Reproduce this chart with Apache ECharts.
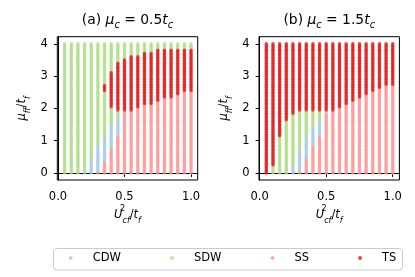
<!DOCTYPE html>
<html><head><meta charset="utf-8">
<script src="https://cdn.jsdelivr.net/npm/echarts@6/dist/echarts.min.js"></script>
<style>html,body{margin:0;padding:0;background:#fff}#c{width:415px;height:277px}</style>
</head><body><div id="c"></div>
<script>
// ---- data ----
const phaseNames = ['CDW', 'SDW', 'SS', 'TS'];
const phaseColors = ['#a6cee3', '#b2df8a', '#fb9a99', '#e31a1c'];
const uValues = [0.05,0.10,0.15,0.20,0.25,0.30,0.35,0.40,0.45,0.50,0.55,0.60,0.65,0.70,0.75,0.80,0.85,0.90,0.95,1.00];
const muGrid = [0,0.05,0.1,0.15,0.2,0.25,0.3,0.35,0.4,0.45,0.5,0.55,0.6,0.65,0.7,0.75,0.8,0.85,0.9,0.95,
  1,1.05,1.1,1.15,1.2,1.25,1.3,1.35,1.4,1.45,1.5,1.55,1.6,1.65,1.7,1.75,1.8,1.85,1.9,1.95,
  2,2.05,2.1,2.15,2.2,2.25,2.3,2.35,2.4,2.45,2.5,2.55,2.6,2.65,2.7,2.75,2.8,2.85,2.9,2.95,
  3,3.05,3.1,3.15,3.2,3.25,3.3,3.35,3.4,3.45,3.5,3.55,3.6,3.65,3.7,3.75,3.8,3.85,3.9,3.95,4];
// phase bands per column, bottom to top: [phase, last mu value of band]
const bandsA = [
  [['SDW',4]],
  [['SDW',4]],
  [['SDW',4]],
  [['CDW',0],['SDW',4]],
  [['CDW',0.5],['SDW',4]],
  [['SS',0],['CDW',0.85],['SDW',4]],
  [['SS',0.3],['CDW',1.15],['SDW',2.5],['TS',2.7],['SDW',4]],
  [['SS',0.7],['CDW',1.5],['SDW',2.0],['TS',3.1],['SDW',4]],
  [['SS',1.1],['CDW',1.7],['SDW',1.9],['TS',3.4],['SDW',4]],
  [['SS',1.9],['TS',3.5],['SDW',4]],
  [['SS',1.9],['TS',3.6],['SDW',4]],
  [['SS',2.0],['TS',3.6],['SDW',4]],
  [['SS',2.1],['TS',3.7],['SDW',4]],
  [['SS',2.1],['TS',3.7],['SDW',4]],
  [['SS',2.2],['TS',3.8],['SDW',4]],
  [['SS',2.3],['TS',3.8],['SDW',4]],
  [['SS',2.3],['TS',3.8],['SDW',4]],
  [['SS',2.4],['TS',3.8],['SDW',4]],
  [['SS',2.5],['TS',3.8],['SDW',4]],
  [['SS',2.5],['TS',3.8],['SDW',4]]
];
const bandsB = [
  [['TS',4]],
  [['SDW',0.2],['TS',4]],
  [['SDW',1.1],['TS',4]],
  [['SDW',1.6],['TS',4]],
  [['CDW',0.2],['SDW',1.8],['TS',4]],
  [['SS',0],['CDW',0.7],['SDW',1.9],['TS',4]],
  [['SS',0.4],['CDW',1.1],['SDW',1.9],['TS',4]],
  [['SS',0.8],['CDW',1.4],['SDW',1.9],['TS',4]],
  [['SS',1.1],['CDW',1.6],['SDW',1.9],['TS',4]],
  [['SS',1.8],['CDW',1.9],['TS',4]],
  [['SS',1.9],['TS',4]],
  [['SS',2.0],['TS',4]],
  [['SS',2.1],['TS',4]],
  [['SS',2.2],['TS',4]],
  [['SS',2.3],['TS',4]],
  [['SS',2.4],['TS',4]],
  [['SS',2.5],['TS',4]],
  [['SS',2.6],['TS',4]],
  [['SS',2.7],['TS',4]],
  [['SS',2.7],['TS',4]]
];
const xTicks = [0, 0.5, 1];
const yTicks = [0, 1, 2, 3, 4];

// ---- build ----
function pointsFor(bands, phase) {
  const out = [];
  uValues.forEach((u, ci) => {
    muGrid.forEach(mu => {
      const b = bands[ci].find(bd => mu <= bd[1] + 1e-9);
      if (b && b[0] === phase) out.push([u, mu]);
    });
  });
  return out;
}
const FF = 'DejaVu Sans';
const grids = [
  {left: 57.3, top: 36.7, width: 140.4, height: 143.3},
  {left: 259, top: 36.7, width: 140.4, height: 143.3}
];
const series = [];
[bandsA, bandsB].forEach((bands, gi) => {
  phaseNames.forEach((ph, pi) => {
    series.push({
      type: 'scatter', name: ph, xAxisIndex: gi, yAxisIndex: gi,
      symbol: 'circle', symbolSize: 3.5,
      itemStyle: {color: phaseColors[pi]},
      data: pointsFor(bands, ph), silent: true
    });
  });
});
const axisCommon = {
  type: 'value', splitLine: {show: false},
  axisLine: {show: true, lineStyle: {color: '#000', width: 1}},
  axisTick: {show: true, length: 4, lineStyle: {color: '#000', width: 1}},
};
const xAxes = grids.map((g, i) => Object.assign({}, axisCommon, {
  gridIndex: i, min: -0.005, max: 1.05,
  axisTick: Object.assign({}, axisCommon.axisTick, {customValues: xTicks}),
  axisLabel: {customValues: xTicks, fontSize: 11.5, fontFamily: FF, color: '#000', margin: 11,
    formatter: v => v.toFixed(1)}
}));
const yAxes = grids.map((g, i) => Object.assign({}, axisCommon, {
  gridIndex: i, min: -0.22, max: 4.22,
  axisTick: Object.assign({}, axisCommon.axisTick, {customValues: yTicks}),
  axisLabel: {customValues: yTicks, fontSize: 11.5, fontFamily: FF, color: '#000', margin: 9.5,
    formatter: v => String(v)}
}));

function rich(fs) {
  const base = {fontFamily: FF, fill: '#000', color: '#000'};
  return {
    n: Object.assign({fontSize: fs, lineHeight: 20, verticalAlign: 'middle'}, base),
    i: Object.assign({fontSize: fs, fontStyle: 'italic', lineHeight: 20, verticalAlign: 'middle'}, base),
    sub: Object.assign({fontSize: fs * 0.7, fontStyle: 'italic', lineHeight: 12, verticalAlign: 'bottom'}, base),
    sup: Object.assign({fontSize: fs * 0.7, lineHeight: 12, verticalAlign: 'top', width: 0.01}, base)
  };
}
function mathText(text, x, y, fs, rot) {
  return {
    type: 'text', x: x, y: y, rotation: rot || 0, z: 10,
    style: {text: text, rich: rich(fs), align: 'center', verticalAlign: 'middle',
      textAlign: 'center', textVerticalAlign: 'middle', fontSize: fs, fontFamily: FF, fill: '#000'}
  };
}
const titles = ['{n|(a) }{i|μ}{sub|c}{n| = 0.5}{i|t}{sub|c}', '{n|(b) }{i|μ}{sub|c}{n| = 1.5}{i|t}{sub|c}'];
const xName = '{i|U}{sup|2}{sub|cf}{n|/}{i|t}{sub|f}';
const yName = '{i|μ}{sub|ff}{n|/}{i|t}{sub|f}';

const graphics = [
  {type: 'rect', shape: {x: 53.5, y: 248.5, width: 349, height: 21.5, r: 3},
   style: {fill: '#fff', stroke: '#cccccc', lineWidth: 1}, z: 0}
];
grids.forEach((g, i) => {
  const cx = g.left + g.width / 2;
  graphics.push(mathText(titles[i], cx, 20.5, 13.9));
  graphics.push(mathText(xName, cx, 215, 11.5));
  graphics.push(mathText(yName, g.left - 35, g.top + g.height / 2, 11.5, Math.PI / 2));
});

const chart = echarts.init(document.getElementById('c'), null, {renderer: 'canvas'});
chart.setOption({
  animation: false,
  backgroundColor: '#fff',
  grid: grids.map(g => Object.assign({show: true, borderColor: '#000', borderWidth: 1, backgroundColor: 'transparent'}, g)),
  xAxis: xAxes,
  yAxis: yAxes,
  legend: {
    data: phaseNames, icon: 'circle', itemWidth: 4, itemHeight: 4, itemGap: 49,
    left: 68.7, top: 252, padding: 0, z: 5,
    textStyle: {fontSize: 11.5, fontFamily: FF, color: '#000', padding: [0, 0, 0, 15]}
  },
  graphic: {elements: graphics},
  series: series
});
</script></body></html>
